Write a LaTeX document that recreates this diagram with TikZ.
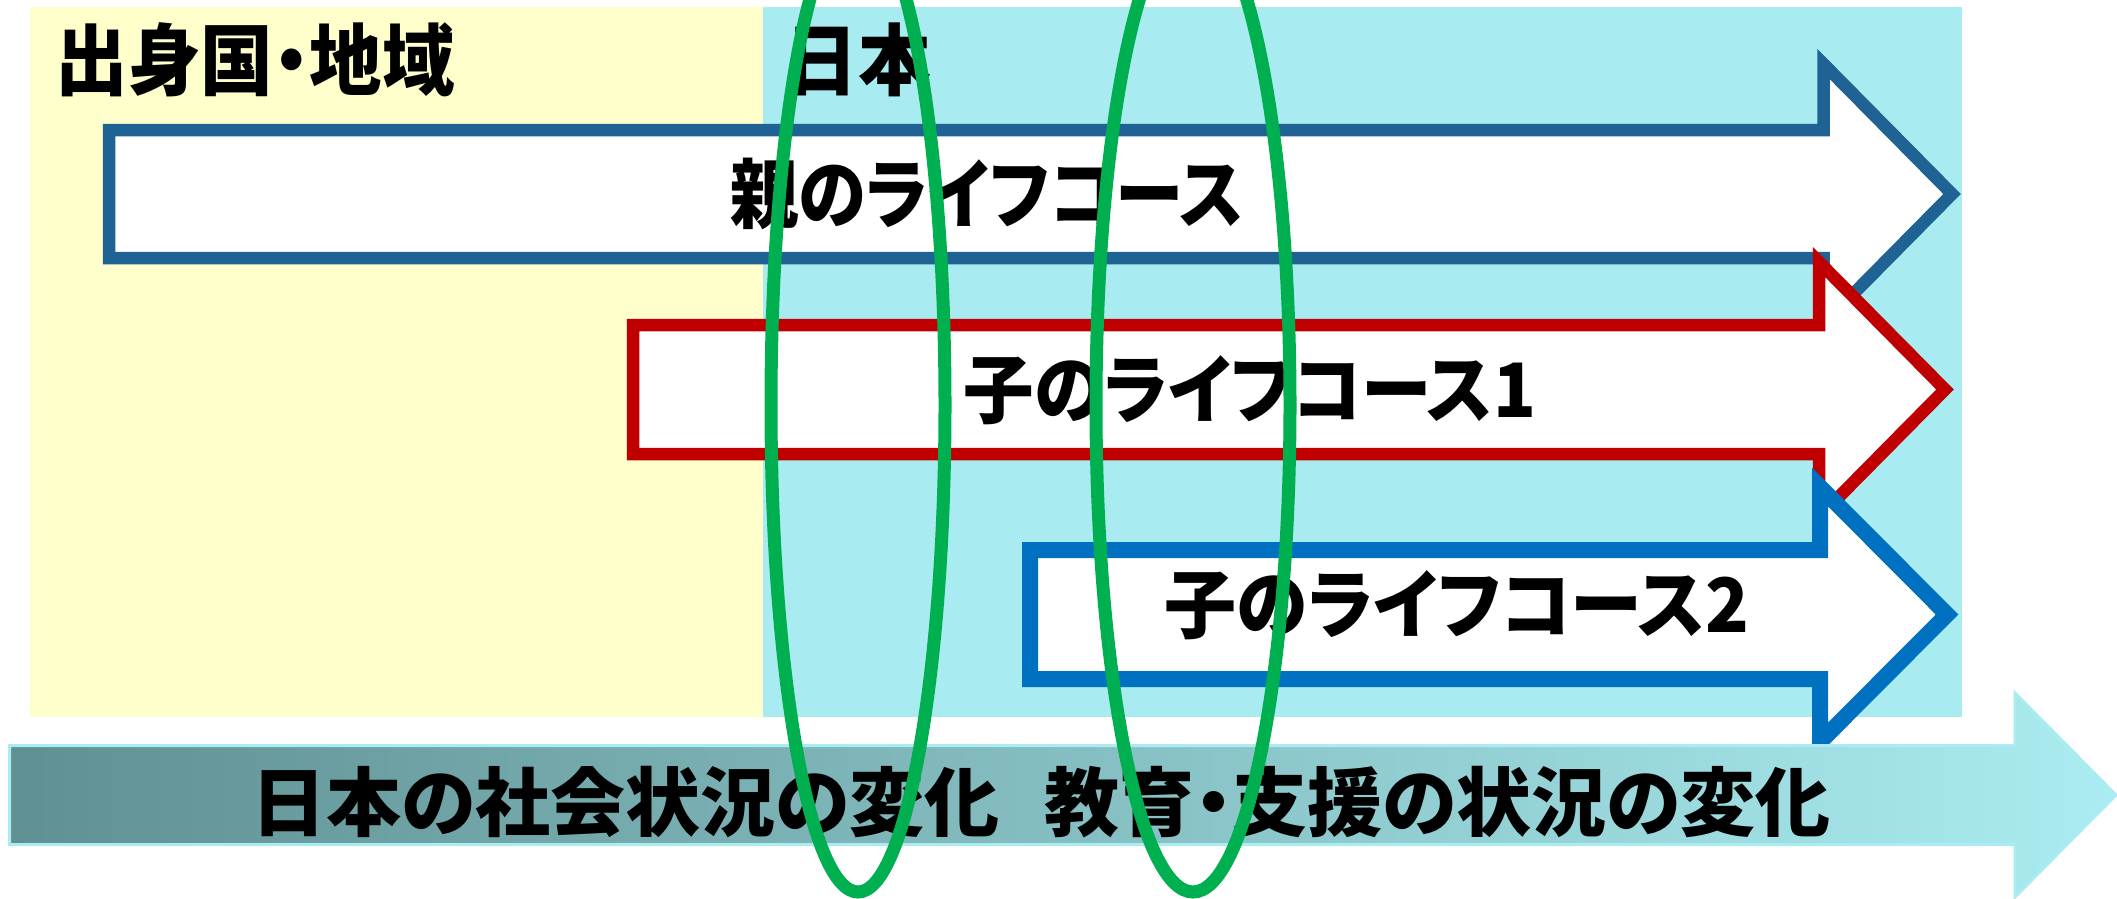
\documentclass[tikz,border=0pt]{standalone}
\usepackage{fontspec}
\newfontfamily\jpfont{Noto Sans CJK JP}[RawFeature=+palt]
\newfontfamily\jpfontT{Noto Sans CJK JP}[RawFeature=+palt, FakeStretch=0.93]
\newfontfamily\jpfontA{Noto Sans CJK JP}[RawFeature=+palt, FakeStretch=0.9]
\newfontfamily\jpfontB{Noto Sans CJK JP}[RawFeature=+palt, FakeStretch=0.94]
\newfontfamily\jpfontC{Noto Sans CJK JP}[RawFeature=+palt, FakeStretch=0.96]
\definecolor{ylbg}{RGB}{255,255,204}
\definecolor{cybg}{RGB}{168,235,240}
\definecolor{parentblue}{RGB}{31,99,148}
\definecolor{childred}{RGB}{192,0,0}
\definecolor{childblue}{RGB}{0,112,192}
\definecolor{ringgreen}{RGB}{0,176,80}
\definecolor{barleft}{RGB}{96,144,146}
\definecolor{barright}{RGB}{170,236,241}
\definecolor{barline}{RGB}{170,236,241}
\begin{document}
\begin{tikzpicture}[x=1pt,y=-1pt,
  lifearrow/.style={fill=white, line join=miter},
  lbl/.style={font=\jpfont\bfseries\fontsize{75}{80}\selectfont, inner sep=0pt},
  lblA/.style={font=\jpfontA\bfseries\fontsize{76}{80}\selectfont, inner sep=0pt},
  lblB/.style={font=\jpfontB\bfseries\fontsize{75}{80}\selectfont, inner sep=0pt},
  lblC/.style={font=\jpfontC\bfseries\fontsize{75}{80}\selectfont, inner sep=0pt},
  ttl/.style={font=\jpfontT\bfseries\fontsize{78}{82}\selectfont, inner sep=0pt},
  ring/.style={draw=ringgreen, line width=13pt}]
\useasboundingbox (0,0) rectangle (2117,898);
% backgrounds
\fill[ylbg] (30,7) rectangle (763,717);
\fill[cybg] (763,7) rectangle (1962,717);
% parent life course
\draw[lifearrow, draw=parentblue, line width=12.5pt]
  (109,130) -- (1823.5,130) -- (1823.5,64) -- (1952,194) -- (1823.5,324)
  -- (1823.5,258) -- (109,258) -- cycle;
% child 1
\draw[lifearrow, draw=childred, line width=12.5pt]
  (633,325) -- (1819,325) -- (1819,262) -- (1945,389.5) -- (1819,517)
  -- (1819,454) -- (633,454) -- cycle;
% child 2
\draw[lifearrow, draw=childblue, line width=16pt]
  (1030,550) -- (1820,550) -- (1820,487) -- (1947,614.5) -- (1820,742)
  -- (1820,679) -- (1030,679) -- cycle;
% bottom bar
\shade[left color=barleft, right color=barright]
  (9.5,745.5) -- (2015,745.5) -- (2015,693) -- (2116,795) -- (2015,897)
  -- (2015,844.5) -- (9.5,844.5) -- cycle;
\draw[barline, line width=3pt]
  (9.5,745.5) -- (2015,745.5) -- (2015,693) -- (2116,795) -- (2015,897)
  -- (2015,844.5) -- (9.5,844.5) -- cycle;
% texts
\node[ttl] (origin) at (255,60) {出身国・地域};
\node[ttl] (japan) at (858,60) {日本};
\node[lblA] (parent) at (987,194) {親のライフコース};
\node[lblB] (child1) at (1250,390) {子のライフコース1};
\node[lblC] (child2) at (1457,605) {子のライフコース2};
\node[lbl] (change) at (1041,802) {日本の社会状況の変化\hspace{45pt}教育・支援の状況の変化};
% rings
\draw[ring] (858,405) ellipse [x radius=87, y radius=487];
\draw[ring] (1193,405) ellipse [x radius=97, y radius=487];
\end{tikzpicture}
\end{document}
